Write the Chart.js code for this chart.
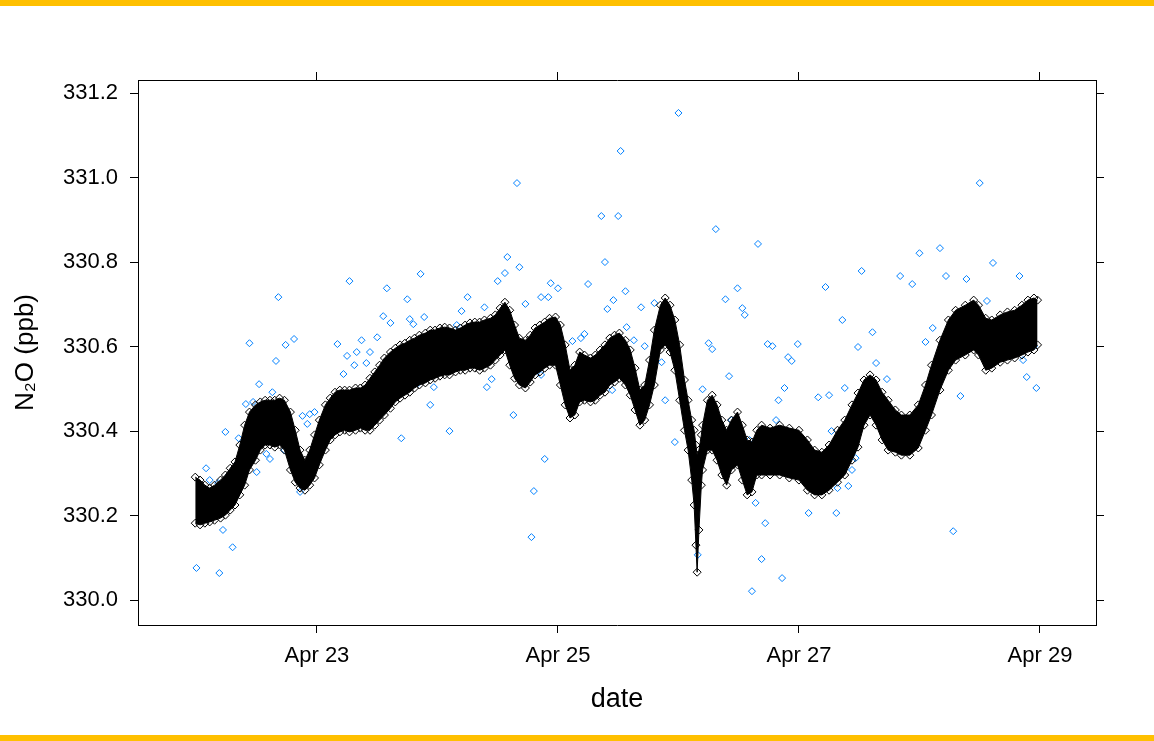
<!DOCTYPE html>
<html>
<head>
<meta charset="utf-8">
<title>N2O</title>
<script src="https://cdn.jsdelivr.net/npm/chart.js@4.4.1/dist/chart.umd.min.js"></script>
<style>
  html, body { margin: 0; padding: 0; background: #fff; }
  #wrap { position: relative; width: 1154px; height: 741px; overflow: hidden; }
  .bar { position: absolute; left: 0; width: 1154px; height: 6px; background: #ffc000; z-index: 2; }
  #barTop { top: 0; }
  #barBottom { bottom: 0; }
</style>
</head>
<body>
<div id="wrap">
  <div class="bar" id="barTop"></div>
  <canvas id="n2oChart"></canvas>
  <div class="bar" id="barBottom"></div>
</div>
<script>
// ===== Data =====
// decimal day of April, lower / upper edge of the dense measurement band (ppb)
const bandDay = [
  21.99, 22.03, 22.07, 22.11, 22.15, 22.20, 22.24, 22.28, 22.32, 22.36,
  22.40, 22.44, 22.49, 22.53, 22.57, 22.61, 22.65, 22.69, 22.73, 22.78,
  22.82, 22.86, 22.90, 22.94, 22.98, 23.02, 23.07, 23.11, 23.15, 23.19,
  23.23, 23.27, 23.32, 23.36, 23.40, 23.44, 23.48, 23.52, 23.56, 23.61,
  23.65, 23.69, 23.73, 23.77, 23.81, 23.85, 23.90, 23.94, 23.98, 24.02,
  24.06, 24.10, 24.15, 24.19, 24.23, 24.27, 24.31, 24.35, 24.39, 24.44,
  24.48, 24.52, 24.56, 24.60, 24.64, 24.68, 24.73, 24.77, 24.81, 24.85,
  24.89, 24.93, 24.98, 25.02, 25.06, 25.10, 25.14, 25.18, 25.22, 25.27,
  25.31, 25.35, 25.39, 25.43, 25.47, 25.51, 25.56, 25.60, 25.64, 25.68,
  25.72, 25.76, 25.80, 25.85, 25.89, 25.93, 25.97, 26.01, 26.05, 26.08,
  26.11, 26.13, 26.145, 26.155, 26.17, 26.19, 26.20, 26.24, 26.28, 26.32,
  26.36, 26.40, 26.44, 26.49, 26.53, 26.57, 26.61, 26.65, 26.69, 26.76,
  26.84, 26.92, 27.00, 27.07, 27.13, 27.19, 27.25, 27.32, 27.38, 27.44,
  27.49, 27.54, 27.59, 27.64, 27.69, 27.74, 27.80, 27.85, 27.92, 27.99,
  28.05, 28.10, 28.17, 28.24, 28.30, 28.38, 28.45, 28.49, 28.55, 28.60,
  28.67, 28.73, 28.79, 28.85, 28.90, 28.95, 28.98
];
const bandLow = [
  330.182, 330.178, 330.182, 330.185, 330.189, 330.194, 330.201, 330.213, 330.225, 330.249,
  330.272, 330.308, 330.331, 330.355, 330.367, 330.367, 330.362, 330.367, 330.355, 330.308,
  330.279, 330.265, 330.260, 330.272, 330.289, 330.320, 330.355, 330.379, 330.391, 330.398,
  330.402, 330.398, 330.402, 330.407, 330.402, 330.402, 330.414, 330.426, 330.438, 330.454,
  330.469, 330.478, 330.485, 330.492, 330.502, 330.509, 330.514, 330.521, 330.525, 330.530,
  330.533, 330.533, 330.540, 330.544, 330.544, 330.549, 330.549, 330.544, 330.549, 330.556,
  330.568, 330.580, 330.592, 330.556, 330.525, 330.509, 330.502, 330.516, 330.533, 330.540,
  330.549, 330.556, 330.556, 330.509, 330.462, 330.431, 330.438, 330.469, 330.473, 330.469,
  330.473, 330.485, 330.492, 330.509, 330.516, 330.525, 330.509, 330.485, 330.450, 330.414,
  330.426, 330.462, 330.509, 330.592, 330.604, 330.587, 330.544, 330.473, 330.402, 330.355,
  330.284, 330.225, 330.130, 330.066, 330.166, 330.272, 330.308, 330.355, 330.355, 330.331,
  330.296, 330.272, 330.308, 330.320, 330.284, 330.249, 330.256, 330.296, 330.296, 330.296,
  330.296, 330.289, 330.284, 330.260, 330.249, 330.249, 330.260, 330.279, 330.296, 330.331,
  330.362, 330.414, 330.438, 330.414, 330.379, 330.355, 330.350, 330.343, 330.343, 330.360,
  330.402, 330.438, 330.497, 330.544, 330.568, 330.580, 330.592, 330.580, 330.544, 330.549,
  330.563, 330.568, 330.573, 330.580, 330.587, 330.592, 330.604
];
const bandHigh = [
  330.291, 330.284, 330.272, 330.265, 330.272, 330.284, 330.296, 330.312, 330.327, 330.367,
  330.414, 330.445, 330.462, 330.469, 330.473, 330.473, 330.473, 330.478, 330.473, 330.445,
  330.402, 330.355, 330.331, 330.355, 330.391, 330.426, 330.462, 330.478, 330.492, 330.497,
  330.497, 330.497, 330.502, 330.502, 330.509, 330.525, 330.540, 330.556, 330.573, 330.587,
  330.596, 330.604, 330.608, 330.615, 330.620, 330.627, 330.632, 330.639, 330.639, 330.644,
  330.646, 330.644, 330.639, 330.644, 330.651, 330.656, 330.658, 330.658, 330.663, 330.667,
  330.675, 330.691, 330.705, 330.686, 330.651, 330.620, 330.615, 330.627, 330.644, 330.651,
  330.658, 330.667, 330.670, 330.651, 330.604, 330.544, 330.556, 330.587, 330.580, 330.573,
  330.580, 330.592, 330.604, 330.620, 330.627, 330.632, 330.615, 330.592, 330.549, 330.497,
  330.509, 330.568, 330.639, 330.698, 330.715, 330.698, 330.663, 330.604, 330.521, 330.473,
  330.426, 330.402, 330.367, 330.343, 330.355, 330.391, 330.414, 330.473, 330.485, 330.462,
  330.426, 330.402, 330.426, 330.445, 330.414, 330.379, 330.374, 330.402, 330.414, 330.407,
  330.414, 330.407, 330.402, 330.379, 330.355, 330.350, 330.367, 330.402, 330.426, 330.462,
  330.490, 330.521, 330.533, 330.521, 330.492, 330.473, 330.450, 330.438, 330.438, 330.462,
  330.509, 330.556, 330.615, 330.663, 330.686, 330.698, 330.710, 330.698, 330.667, 330.663,
  330.675, 330.682, 330.686, 330.698, 330.710, 330.715, 330.710
];

// isolated readings away from the band
const outlierDay = [
  23.27, 22.68, 22.44, 22.74, 22.81, 23.17, 22.66, 23.37, 23.25, 23.33,
  23.44, 23.31, 23.41, 23.22, 22.52, 22.63, 22.41, 22.47, 22.88, 22.94,
  22.98, 22.92, 22.24, 22.35, 22.73, 22.58, 22.61, 22.39, 22.08, 22.34,
  22.50, 22.27, 22.11, 22.18, 22.86, 22.22, 22.30, 22.00, 22.19,
  24.58, 24.68, 24.56, 23.86, 24.50, 24.94, 23.58, 23.75, 24.25, 24.86,
  24.92, 24.73, 24.39, 24.20, 23.55, 23.61, 23.77, 23.89, 23.80, 24.16,
  23.50, 23.66, 23.53, 23.84, 23.97, 23.94, 24.45, 24.41, 24.86, 24.63,
  24.10, 23.70, 24.89, 24.80, 24.66, 24.78,
  26.00, 25.52, 25.36, 25.50, 26.31, 25.39, 25.00, 25.25, 25.56, 25.46,
  25.41, 25.69, 25.80, 26.39, 25.57, 25.12, 25.19, 25.22, 25.63, 25.72,
  26.25, 26.28, 26.42, 25.86, 26.20, 25.89, 25.45, 26.09, 25.97, 26.16,
  26.66, 26.49, 26.53, 26.55, 27.52, 27.84, 27.94, 27.22, 27.36, 27.61,
  26.74, 26.78, 26.99, 27.49, 26.91, 26.94, 27.64, 27.73, 26.88, 27.38,
  26.83, 27.16, 27.25, 26.44, 26.81, 27.27, 26.59, 27.47, 27.44, 27.32,
  27.41, 26.64, 27.08, 27.31, 26.72, 26.69, 26.86, 26.61,
  28.50, 28.00, 28.17, 28.61, 28.22, 28.39, 28.83, 28.56, 28.11, 28.05,
  28.95, 28.86, 28.89, 28.97, 28.34, 28.28
];
const outlierN2O = [
  330.755, 330.717, 330.608, 330.604, 330.618, 330.606, 330.566, 330.615, 330.578, 330.587,
  330.587, 330.556, 330.561, 330.535, 330.511, 330.492, 330.464, 330.469, 330.436, 330.440,
  330.445, 330.417, 330.398, 330.383, 330.355, 330.346, 330.334, 330.338, 330.312, 330.324,
  330.303, 330.296, 330.284, 330.277, 330.256, 330.166, 330.125, 330.076, 330.064,
  330.812, 330.788, 330.774, 330.772, 330.755, 330.750, 330.738, 330.712, 330.717, 330.717,
  330.717, 330.701, 330.693, 330.684, 330.672, 330.656, 330.665, 330.670, 330.653, 330.651,
  330.622, 330.578, 330.537, 330.514, 330.504, 330.462, 330.523, 330.504, 330.533, 330.438,
  330.400, 330.383, 330.334, 330.258, 330.987, 330.149,
  331.153, 331.063, 330.909, 330.909, 330.878, 330.800, 330.738, 330.748, 330.731, 330.710,
  330.689, 330.693, 330.703, 330.712, 330.646, 330.613, 330.620, 330.630, 330.615, 330.601,
  330.608, 330.594, 330.530, 330.563, 330.499, 330.473, 330.497, 330.400, 330.374, 330.107,
  330.843, 330.738, 330.691, 330.675, 330.779, 330.767, 330.748, 330.741, 330.663, 330.634,
  330.606, 330.601, 330.606, 330.599, 330.575, 330.566, 330.561, 330.523, 330.502, 330.502,
  330.473, 330.480, 330.485, 330.426, 330.426, 330.400, 330.379, 330.336, 330.308, 330.265,
  330.270, 330.230, 330.206, 330.206, 330.182, 330.097, 330.052, 330.021,
  330.987, 330.821, 330.833, 330.798, 330.767, 330.760, 330.767, 330.708, 330.644, 330.611,
  330.601, 330.568, 330.528, 330.502, 330.483, 330.163
];

const xTicks = [23, 25, 27, 29];
const xTickLabels = ["Apr 23", "Apr 25", "Apr 27", "Apr 29"];
const yTicks = [330.0, 330.2, 330.4, 330.6, 330.8, 331.0, 331.2];

// ===== Chart =====
const toPoints = (xs, ys) => xs.map((x, i) => ({ x: x, y: ys[i] }));

const X_MIN = 21.515, X_MAX = 29.465;
const Y_MIN = 329.941, Y_MAX = 331.231;
const FONT = "'Liberation Sans', Arial, sans-serif";

// band edges: outline diamonds on a thin line, the area between is filled
const edgeStyle = {
  showLine: true,
  tension: 0,
  borderColor: "#000",
  borderWidth: 1,
  pointStyle: "rectRot",
  pointRadius: 4,
  pointBorderWidth: 1,
  pointBorderColor: "#000",
  pointBackgroundColor: "rgba(0,0,0,0)",
  order: 1
};

const frameGrid = { drawOnChartArea: false, color: "#000", tickLength: 8, tickWidth: 1 };
const frameBorder = { display: true, color: "#000", width: 1 };
const setTicks = (list) => (scale) => { scale.ticks = list.map((v) => ({ value: v })); };

new Chart(document.getElementById("n2oChart"), {
  type: "line",
  data: {
    datasets: [
      Object.assign({ data: toPoints(bandDay, bandLow), fill: false }, edgeStyle),
      Object.assign({ data: toPoints(bandDay, bandHigh), fill: "-1", backgroundColor: "#000" }, edgeStyle),
      {
        data: toPoints(outlierDay, outlierN2O),
        showLine: false,
        pointStyle: "rectRot",
        pointRadius: 3.5,
        pointBorderWidth: 1,
        pointBorderColor: "#0080ff",
        pointBackgroundColor: "rgba(0,0,0,0)",
        order: 2
      }
    ]
  },
  options: {
    responsive: true,
    maintainAspectRatio: false,
    animation: false,
    layout: { padding: 0 },
    plugins: { legend: { display: false }, tooltip: { enabled: false } },
    scales: {
      x: {
        type: "linear",
        position: "bottom",
        min: X_MIN,
        max: X_MAX,
        afterBuildTicks: setTicks(xTicks),
        afterFit: (s) => { s.height = 116; },
        grid: frameGrid,
        border: frameBorder,
        ticks: {
          padding: 10,
          color: "#000",
          font: { family: FONT, size: 22 },
          maxRotation: 0,
          callback: (v) => xTickLabels[xTicks.indexOf(v)]
        },
        title: {
          display: true,
          text: "date",
          color: "#000",
          font: { family: FONT, size: 27 },
          padding: { top: 25, bottom: 25 }
        }
      },
      x2: {
        type: "linear",
        position: "top",
        min: X_MIN,
        max: X_MAX,
        afterBuildTicks: setTicks(xTicks),
        afterFit: (s) => { s.height = 80; },
        grid: frameGrid,
        border: frameBorder,
        ticks: { display: false }
      },
      y: {
        type: "linear",
        position: "left",
        min: Y_MIN,
        max: Y_MAX,
        afterBuildTicks: setTicks(yTicks),
        afterFit: (s) => { s.width = 138; },
        grid: frameGrid,
        border: frameBorder,
        ticks: {
          padding: 12,
          color: "#000",
          font: { family: FONT, size: 22 },
          callback: (v) => v.toFixed(1)
        },
        title: {
          display: true,
          text: "N\u2082O (ppb)",
          color: "#000",
          font: { family: FONT, size: 26 },
          padding: { top: 10, bottom: 10 }
        }
      },
      y2: {
        type: "linear",
        position: "right",
        min: Y_MIN,
        max: Y_MAX,
        afterBuildTicks: setTicks(yTicks),
        afterFit: (s) => { s.width = 58; },
        grid: frameGrid,
        border: frameBorder,
        ticks: { display: false }
      }
    }
  }
});
</script>
</body>
</html>
